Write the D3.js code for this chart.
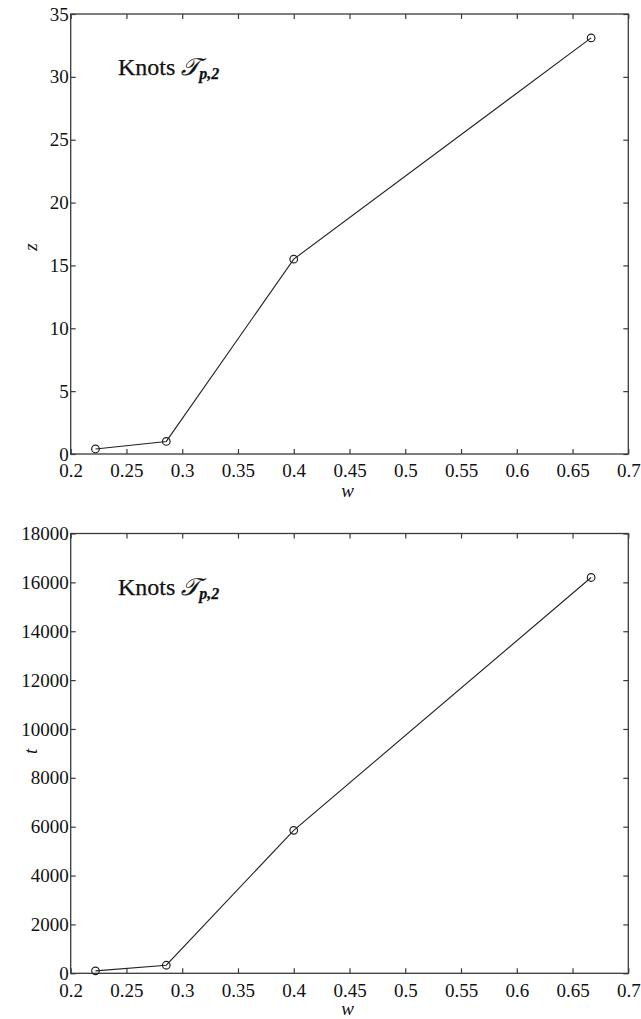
<!DOCTYPE html>
<html>
<head>
<meta charset="utf-8">
<script src="https://cdn.jsdelivr.net/npm/d3@7"></script>
<style>
  html,body{margin:0;padding:0;background:#fff;}
  svg{display:block;}
</style>
</head>
<body>
<svg id="chart" width="641" height="1019"></svg>
<script>
/* w の値（両パネル共通） */
const W = [2/9, 2/7, 0.4, 2/3];
/* 上段: z */
const Z = [0.4, 1.0, 15.5, 33.1];
/* 下段: t */
const T = [100, 330, 5850, 16200];

const X_TICKS = [0.2,0.25,0.3,0.35,0.4,0.45,0.5,0.55,0.6,0.65,0.7];
const Z_TICKS = [0,5,10,15,20,25,30,35];
const T_TICKS = [0,2000,4000,6000,8000,10000,12000,14000,16000,18000];

const SERIF = "'Liberation Serif','DejaVu Serif','Times New Roman',serif";
const svg = d3.select("#chart");
const L = 70.7, R = 628.3;
const AX = "#3a3a3a";

function panel(top, bottom, ys, yMax, yTicks, yName, wY, yOff){
  const x = d3.scaleLinear().domain([0.2,0.7]).range([L,R]);
  const y = d3.scaleLinear().domain([0,yMax]).range([bottom,top]);
  const g = svg.append("g");
  const fmtX = d => String(+d.toFixed(2));

  /* 外枠 + 内向き目盛り(四辺) */
  const ax = (a, tr, labels) => {
    const s = g.append("g").attr("transform", tr).call(a);
    s.select(".domain").remove();
    s.selectAll(".tick line").attr("stroke", AX).attr("stroke-width", 1.2);
    s.selectAll(".tick text").attr("fill", "#111")
      .style("font-family", SERIF).style("font-size", "19px");
    if(!labels) s.selectAll(".tick text").remove();
    return s;
  };
  ax(d3.axisBottom(x).tickValues(X_TICKS).tickSize(-5).tickPadding(10).tickFormat(fmtX),
     `translate(0,${bottom})`, true);
  ax(d3.axisTop(x).tickValues(X_TICKS).tickSize(-5), `translate(0,${top})`, false);
  ax(d3.axisLeft(y).tickValues(yTicks).tickSize(-5).tickPadding(2).tickFormat(d3.format("d")),
     `translate(${L},0)`, true);
  ax(d3.axisRight(y).tickValues(yTicks).tickSize(-5), `translate(${R},0)`, false);
  g.append("rect").attr("x",L).attr("y",top).attr("width",R-L).attr("height",bottom-top)
    .attr("fill","none").attr("stroke",AX).attr("stroke-width",1.3);

  /* 折れ線 + 丸マーカー */
  const pts = W.map((w,i)=>[w, ys[i]]);
  g.append("path").datum(pts)
    .attr("d", d3.line().x(d=>x(d[0])).y(d=>y(d[1])))
    .attr("fill","none").attr("stroke","#222").attr("stroke-width",1.1);
  g.selectAll("circle.m").data(pts).join("circle").attr("class","m")
    .attr("cx",d=>x(d[0])).attr("cy",d=>y(d[1])).attr("r",3.8)
    .attr("fill","none").attr("stroke","#222").attr("stroke-width",1.2);

  /* 軸ラベル */
  g.append("text").attr("font-family",SERIF).attr("font-style","italic").attr("font-size",19)
    .attr("fill","#111").attr("text-anchor","middle")
    .attr("x",(L+R)/2-2).attr("y",wY).text("w");
  g.append("text").attr("font-family",SERIF).attr("font-style","italic").attr("font-size",19)
    .attr("fill","#111").attr("text-anchor","middle")
    .attr("transform",`translate(37,${(top+bottom)/2+yOff}) rotate(-90)`).text(yName);

  /* タイトル */
  const t = g.append("text").attr("font-family",SERIF).attr("font-size",24)
    .attr("fill","#111").attr("stroke","#111").attr("stroke-width",0.25)
    .attr("x",118).attr("y",top+61);
  t.append("tspan").text("Knots ");
  t.append("tspan").attr("font-style","italic").text("\u{1D4AF}");
  t.append("tspan").attr("font-style","italic").attr("font-weight","bold")
    .attr("font-size","16px").attr("dy",4).text("p,2");
}

panel(14, 454, Z, 35, Z_TICKS, "z", 497, 13);
panel(533.5, 973.3, T, 18000, T_TICKS, "t", 1015, -2);
</script>
</body>
</html>
